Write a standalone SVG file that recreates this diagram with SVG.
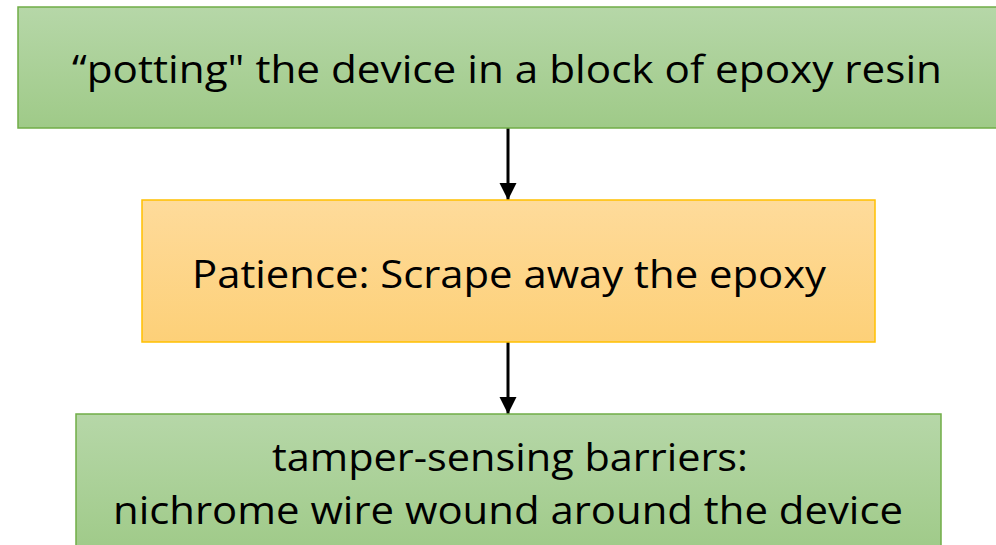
<svg xmlns="http://www.w3.org/2000/svg" width="996" height="545" viewBox="0 0 996 545">
  <style>
    .label { font-family: "Open Sans", "Noto Sans", sans-serif; font-size: 39px; fill: #000; text-anchor: middle; }
    .green { fill: url(#gGreen); stroke: #70ad47; stroke-width: 1.5; }
    .orange { fill: url(#gOrange); stroke: #ffc000; stroke-width: 1.5; }
    .conn { stroke: #000; stroke-width: 3; fill: none; marker-end: url(#arrow); }
  </style>
  <defs>
    <linearGradient id="gGreen" x1="0" y1="0" x2="0" y2="1">
      <stop offset="0" stop-color="#b6d7a8"/>
      <stop offset="1" stop-color="#9fca88"/>
    </linearGradient>
    <linearGradient id="gOrange" x1="0" y1="0" x2="0" y2="1">
      <stop offset="0" stop-color="#fedb9b"/>
      <stop offset="1" stop-color="#fdd078"/>
    </linearGradient>
    <marker id="arrow" viewBox="0 0 10 10" refX="10" refY="5" markerWidth="5.7" markerHeight="5.7" markerUnits="strokeWidth" orient="auto">
      <path d="M0,0 L10,5 L0,10 z" fill="#000"/>
    </marker>
  </defs>

  <g id="connectors">
    <line class="conn" x1="508" y1="128" x2="508" y2="200"/>
    <line class="conn" x1="508" y1="342" x2="508" y2="414"/>
  </g>

  <g id="potting">
    <rect class="green" x="18" y="7" width="990" height="121"/>
    <text class="label" x="507" y="83" textLength="870" lengthAdjust="spacingAndGlyphs">“potting" the device in a block of epoxy resin</text>
  </g>

  <g id="patience">
    <rect class="orange" x="142" y="200" width="733" height="142"/>
    <text class="label" x="509" y="288" textLength="634" lengthAdjust="spacingAndGlyphs">Patience: Scrape away the epoxy</text>
  </g>

  <g id="barriers">
    <rect class="green" x="76" y="414" width="865" height="140"/>
    <text class="label" x="510" y="471" textLength="476" lengthAdjust="spacingAndGlyphs">tamper-sensing barriers:</text>
    <text class="label" x="508" y="524" textLength="790" lengthAdjust="spacingAndGlyphs">nichrome wire wound around the device</text>
  </g>
</svg>
